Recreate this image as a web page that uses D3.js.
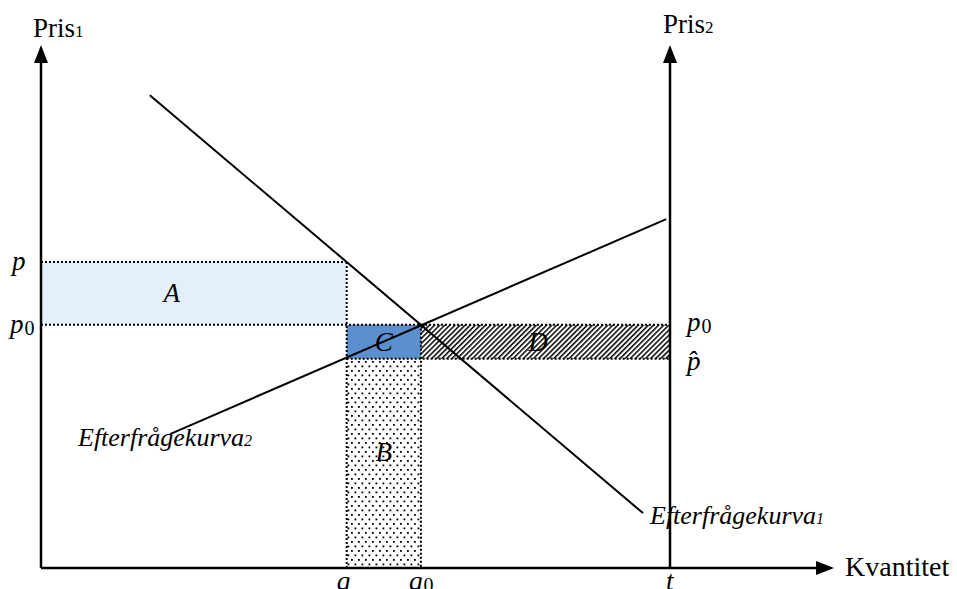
<!DOCTYPE html>
<html>
<head>
<meta charset="utf-8">
<script src="https://cdn.jsdelivr.net/npm/d3@7"></script>
<style>
  body { margin: 0; background: #fff; }
  svg text { font-family: "Liberation Serif", "DejaVu Serif", serif; }
</style>
</head>
<body>
<div id="chart"></div>
<script>
// data (axis units 0..100, t = 100)
const qTicks = [
  { key: "q", value: 48.6 },
  { key: "q0", value: 60.4 },
  { key: "t", value: 100 }
];
const priceLevels = [
  { key: "p", value: 58.5 },
  { key: "p0", value: 46.5 },
  { key: "phat", value: 40.0 }
];
const demand1 = [[17.3, 90.4], [95.7, 10.5]];
const demand2 = [[20.5, 25.6], [99.4, 66.7]];

const width = 957, height = 589;

const x = d3.scaleLinear().domain([0, 100]).range([41, 670]);
const y = d3.scaleLinear().domain([0, 100]).range([568, 45]);

const q = qTicks[0].value, q0 = qTicks[1].value, t = qTicks[2].value;
const p = priceLevels[0].value, p0 = priceLevels[1].value, ph = priceLevels[2].value;

const svg = d3.select("#chart").append("svg")
  .attr("width", width).attr("height", height);

const defs = svg.append("defs");
// dots for B
const dots = defs.append("pattern").attr("id", "dots")
  .attr("patternUnits", "userSpaceOnUse").attr("width", 7).attr("height", 9);
dots.append("rect").attr("width", 7).attr("height", 9).attr("fill", "#fff");
dots.append("rect").attr("x", 1).attr("y", 1).attr("width", 1.8).attr("height", 1.8).attr("fill", "#000");
dots.append("rect").attr("x", 4.5).attr("y", 5.5).attr("width", 1.8).attr("height", 1.8).attr("fill", "#000");
// hatch for D
const hatch = defs.append("pattern").attr("id", "hatch")
  .attr("patternUnits", "userSpaceOnUse").attr("width", 3.6).attr("height", 3.6)
  .attr("patternTransform", "rotate(45)");
hatch.append("rect").attr("width", 3.6).attr("height", 3.6).attr("fill", "#fff");
hatch.append("line").attr("x1", 0).attr("y1", 0).attr("x2", 0).attr("y2", 3.6)
  .attr("stroke", "#000").attr("stroke-width", 3);

// areas
svg.append("rect") // A
  .attr("x", x(0)).attr("y", y(p)).attr("width", x(q) - x(0)).attr("height", y(p0) - y(p))
  .attr("fill", "#e3f0fc");
svg.append("rect") // C
  .attr("x", x(q)).attr("y", y(p0)).attr("width", x(q0) - x(q)).attr("height", y(ph) - y(p0))
  .attr("fill", "#5b8fcf");
svg.append("rect") // B
  .attr("x", x(q)).attr("y", y(ph)).attr("width", x(q0) - x(q)).attr("height", y(0) - y(ph))
  .attr("fill", "url(#dots)");
svg.append("rect") // D
  .attr("x", x(q0)).attr("y", y(p0)).attr("width", x(t) - x(q0)).attr("height", y(ph) - y(p0))
  .attr("fill", "url(#hatch)");

// dotted guide lines
const dotted = [
  [[0, p], [q, p]],
  [[q, p], [q, 0]],
  [[0, p0], [t, p0]],
  [[q, ph], [t, ph]],
  [[q0, p0], [q0, 0]]
];
svg.selectAll("line.guide").data(dotted).enter().append("line")
  .attr("class", "guide")
  .attr("x1", d => x(d[0][0])).attr("y1", d => y(d[0][1]))
  .attr("x2", d => x(d[1][0])).attr("y2", d => y(d[1][1]))
  .attr("stroke", "#000").attr("stroke-width", 2).attr("stroke-dasharray", "2,2");

// demand curves
const line = d3.line().x(d => x(d[0])).y(d => y(d[1]));
[demand1, demand2].forEach(dd => {
  svg.append("path").attr("d", line(dd)).attr("fill", "none")
    .attr("stroke", "#000").attr("stroke-width", 2);
});

// axes
const axisColor = "#000";
svg.append("line").attr("x1", x(0)).attr("y1", y(0)).attr("x2", x(0)).attr("y2", 60)
  .attr("stroke", axisColor).attr("stroke-width", 2.5);
svg.append("path").attr("d", `M${x(0) - 7},63 L${x(0)},45 L${x(0) + 7},63 Z`).attr("fill", axisColor);
svg.append("line").attr("x1", x(t)).attr("y1", y(0)).attr("x2", x(t)).attr("y2", 60)
  .attr("stroke", axisColor).attr("stroke-width", 2.5);
svg.append("path").attr("d", `M${x(t) - 7},63 L${x(t)},45 L${x(t) + 7},63 Z`).attr("fill", axisColor);
svg.append("line").attr("x1", x(0)).attr("y1", y(0)).attr("x2", 820).attr("y2", y(0))
  .attr("stroke", axisColor).attr("stroke-width", 2.5);
svg.append("path").attr("d", `M816,${y(0) - 7} L834,${y(0)} L816,${y(0) + 7} Z`).attr("fill", axisColor);

// axis titles
const p1 = svg.append("text").attr("x", 33).attr("y", 37).attr("font-size", 27);
p1.append("tspan").text("Pris");
p1.append("tspan").attr("font-size", 17).text("1");
const p2 = svg.append("text").attr("x", 663).attr("y", 33).attr("font-size", 27);
p2.append("tspan").text("Pris");
p2.append("tspan").attr("font-size", 17).text("2");
svg.append("text").attr("x", 845).attr("y", 576).attr("font-size", 28).text("Kvantitet");

// math labels
function mathLabel(xp, yp, base, sub, anchor) {
  const tx = svg.append("text").attr("x", xp).attr("y", yp)
    .attr("font-size", 27).attr("font-style", "italic").attr("text-anchor", anchor || "start");
  tx.append("tspan").text(base);
  if (sub) tx.append("tspan").attr("font-style", "normal").attr("font-size", 20).attr("dy", 2).attr("dx", 1).text(sub);
  return tx;
}
mathLabel(12, y(p) + 8, "p");
mathLabel(10, y(p0) + 8, "p", "0");
mathLabel(687, y(p0) + 6, "p", "0");
mathLabel(687, y(ph) + 11, "p\u0302");
mathLabel(x(q) - 10, 590, "q");
mathLabel(x(q0) - 12, 590, "q", "0");
mathLabel(x(t) - 4, 590, "t");

// area letters
mathLabel((x(0) + x(q)) / 2 - 22, (y(p) + y(p0)) / 2 + 9, "A", null, "middle");
mathLabel((x(q) + x(q0)) / 2, (y(p0) + y(ph)) / 2 + 9, "C", null, "middle");
mathLabel((x(q) + x(q0)) / 2, 461, "B", null, "middle");
mathLabel(538, (y(p0) + y(ph)) / 2 + 9, "D", null, "middle");

// curve labels
const l2 = svg.append("text").attr("x", 78).attr("y", 446).attr("font-size", 26).attr("font-style", "italic");
l2.append("tspan").text("Efterfrågekurva");
l2.append("tspan").attr("font-size", 16).text("2");
const l1 = svg.append("text").attr("x", 650).attr("y", 524).attr("font-size", 26).attr("font-style", "italic");
l1.append("tspan").text("Efterfrågekurva");
l1.append("tspan").attr("font-size", 16).text("1");
</script>
</body>
</html>
